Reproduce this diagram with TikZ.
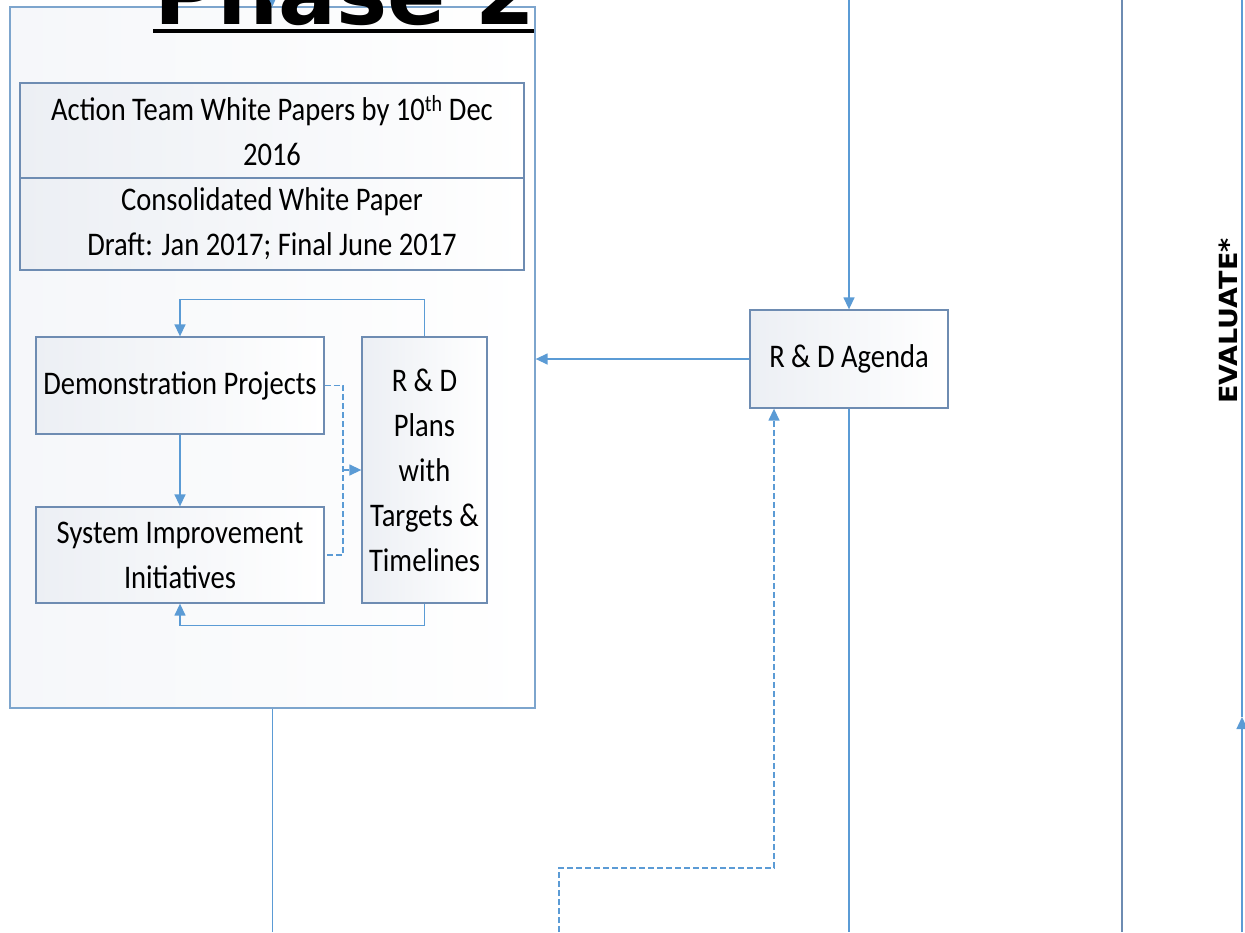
\documentclass[tikz,border=0pt]{standalone}
\usepackage{fontspec}
\setmainfont{Carlito}[FakeStretch=0.865]
\newfontfamily\headfont{DejaVu Sans}
\newfontfamily\evalfont{DejaVu Sans}[FakeStretch=1.08]
\usetikzlibrary{arrows.meta}

\definecolor{boxline}{RGB}{110,140,178}
\definecolor{phaseline}{RGB}{125,165,205}
\definecolor{flowblue}{RGB}{91,155,213}
\definecolor{boxfill}{RGB}{236,239,244}

\tikzset{
    stagebox/.style={draw=boxline, line width=1.3pt, left color=boxfill, right color=white, align=center,
        inner sep=2pt, font=\fontsize{33}{45}\selectfont},
    flow/.style={draw=flowblue, line width=1.4pt, -{Triangle[length=12pt,width=11pt]}},
    flowplain/.style={draw=flowblue, line width=1.4pt},
    dashflow/.style={flow, dash pattern=on 6pt off 3pt},
    dashplain/.style={flowplain, dash pattern=on 6pt off 3pt},
}

\begin{document}
\begin{tikzpicture}[x=1pt,y=-1pt]
        \useasboundingbox (0,0) rectangle (1245,932);
        \clip (0,0) rectangle (1245,932);

        \node[draw=phaseline, line width=1.3pt, left color=boxfill!50, right color=white, minimum width=525pt, minimum height=701pt] (phase) at (272.5,357.5) {};

        \node[stagebox, minimum width=504pt, minimum height=95pt] (papers) at (272,130.5) {Action Team White Papers by 10\textsuperscript{th} Dec\\2016};
        \node[stagebox, minimum width=504pt, minimum height=92pt] (consolidated) at (272,224) {Consolidated White Paper\\Draft: Jan 2017; Final June 2017};

        \node[stagebox, minimum width=288pt, minimum height=97pt] (demo) at (180,385.5) {Demonstration Projects};
        \node[stagebox, minimum width=288pt, minimum height=96pt] (system) at (180,555) {System Improvement\\Initiatives};
        \node[stagebox, minimum width=125pt, minimum height=266pt] (plans) at (424.5,470) {R \& D\\Plans\\with\\Targets \&\\Timelines};

        \node[stagebox, minimum width=198pt, minimum height=98pt] (agenda) at (849,359) {R \& D Agenda};

        \node[font=\headfont\bfseries\fontsize{86}{86}\selectfont, anchor=base west, inner sep=0pt] (title) at (154,24) {Phase 2};
        \draw[line width=4pt] ([xshift=-1pt,yshift=-7pt]title.base west) -- ([xshift=-2pt,yshift=-7pt]title.base east);

        \node[font=\evalfont\bfseries\fontsize{25}{25}\selectfont, rotate=90, inner sep=0pt] (evaluate) at (1228,321) {EVALUATE*};

        \coordinate (phasein) at (272,-12);
        \coordinate (agendain) at (849,0);
        \coordinate (agendaout) at (849,932);
        \coordinate (phaseout) at (272.5,932);
        \coordinate (trialstart) at (559,932);
        \coordinate (merge) at (343,470);
        \coordinate (laneatop) at (1122,0);
        \coordinate (laneabot) at (1122,932);
        \coordinate (lanebtop) at (1242,0);
        \coordinate (lanebbot) at (1242,932);
        \coordinate (lanebtip) at (1242,717);

        \draw[flow] (plans.north) -- ++(0,-37) -| (demo.north);
        \draw[flow] (plans.south) -- ++(0,22) -| (system.south);
        \draw[flow] (demo) -- (system);
        \draw[dashplain] (demo.east) -| (merge) |- (system.east);
        \draw[dashflow] (merge) -- (plans.west |- merge);

        \draw[flow] (phasein) -- (phase.north);
        \draw[flow] (agendain) -- (agenda.north);
        \draw[flow] (agenda.west) -- (phase.east |- agenda.west);
        \draw[flowplain] (agenda.south) -- (agendaout);
        \draw[flowplain] (phase.south) -- (phaseout);
        \draw[dashflow] (trialstart) -- ++(0,-64) -| ([xshift=-75pt]agenda.south);

        \draw[draw=boxline, line width=1.4pt] (laneatop) -- (laneabot);
        \draw[flow] (lanebbot) -- (lanebtip);
        \draw[flowplain] (lanebtip) -- (lanebtop);
\end{tikzpicture}
\end{document}
